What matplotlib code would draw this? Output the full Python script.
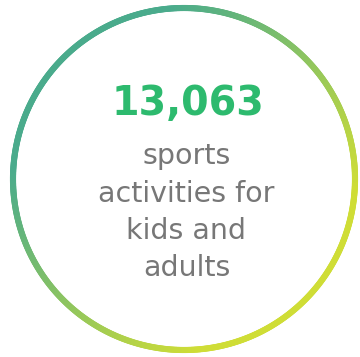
import numpy as np
import matplotlib
matplotlib.use("Agg")
import matplotlib.pyplot as plt
import matplotlib.colors
from matplotlib.collections import LineCollection

# dados do grafico
valor = "13,063"
legenda = ["sports", "activities for", "kids and", "adults"]

cor_inicio = "#4aab8c"
cor_fim = "#cfdd36"
cor_valor = "#2dba6e"
cor_texto = "#777777"

cmap = matplotlib.colors.LinearSegmentedColormap.from_list("", [cor_inicio, cor_fim])

fig = plt.figure(figsize=(3.6, 3.57), dpi=100)
ax = fig.add_axes([0, 0, 1, 1])
ax.set_xlim(0, 360)
ax.set_ylim(357, 0)
ax.axis("off")

# anel com gradiente diagonal
cx, cy, r = 184, 179, 171
t = np.linspace(0, 2*np.pi, 721)
x = cx + r*np.cos(t)
y = cy + r*np.sin(t)
pts = np.column_stack([x, y]).reshape(-1, 1, 2)
segs = np.concatenate([pts[:-1], pts[1:]], axis=1)
proj = ((x[:-1] - cx) + (y[:-1] - cy)) / (2*r*np.sqrt(0.5)) * 0.5 + 0.5
proj = np.clip((proj - 0.12) / 0.76, 0, 1)
lc = LineCollection(segs, colors=cmap(proj), linewidths=4.4, capstyle="round")
ax.add_collection(lc)

ax.text(187.5, 104, valor, color=cor_valor, fontsize=28.5, fontweight="bold",
        ha="center", va="center", family="DejaVu Sans")
for i, linha in enumerate(legenda):
    ax.text(186.5, 156 + i*37.5, linha, color=cor_texto, fontsize=20.5,
            ha="center", va="center", family="DejaVu Sans")

plt.savefig("out.png", dpi=100)
plt.close()
